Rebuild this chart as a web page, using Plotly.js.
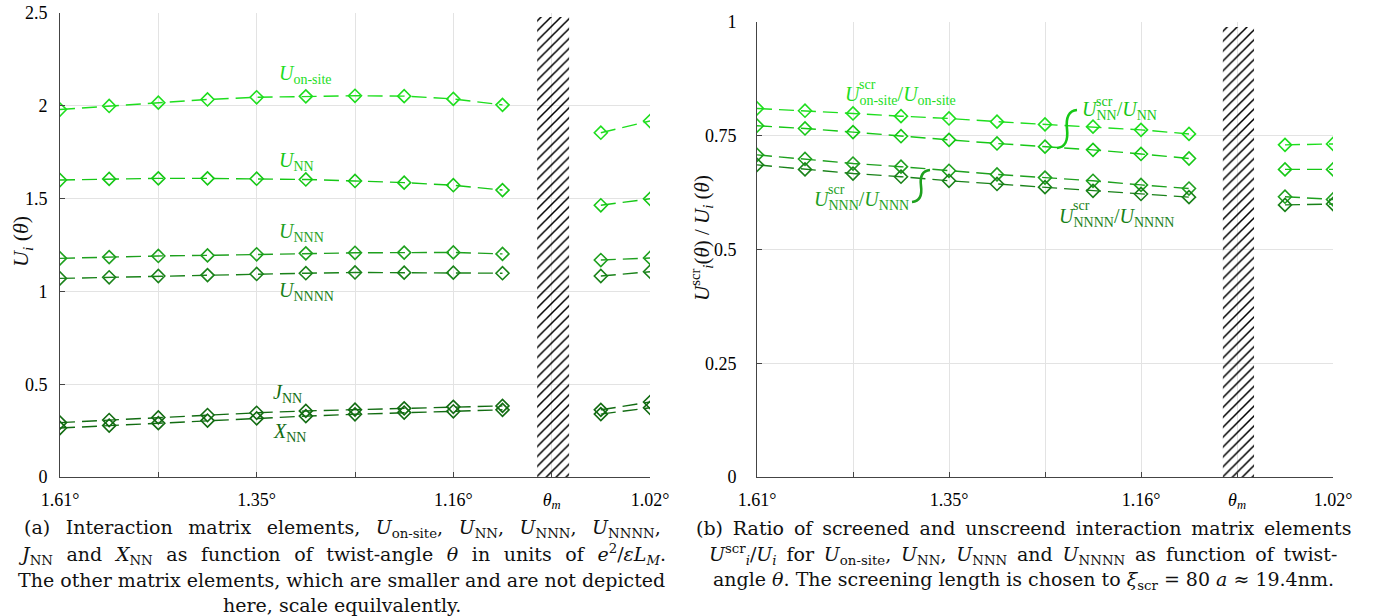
<!DOCTYPE html>
<html>
<head>
<meta charset="utf-8">
<script src="https://cdn.plot.ly/plotly-3.0.1.min.js"></script>
<style>html,body{margin:0;padding:0;background:#fff;}#chart{width:1391px;height:616px;}</style>
</head>
<body>
<div id="chart"></div>
<script>
// ---- data ----
const angleIndex = [0,1,2,3,4,5,6,7,8,9,10,11,12];
const tickPositions = [0,2,4,6,8,10,12];
const tickLabels = ["1.61°","","1.35°","","1.16°","<i>θ</i><sub><i>m</i></sub>","1.02°"];
const yTicksA = [0, 0.5, 1, 1.5, 2, 2.5];
const yLabelsA = ["0", "0.5", "1", "1.5", "2", "2.5"];
const yTicksB = [0, 0.25, 0.5, 0.75, 1];
const yLabelsB = ["0", "0.25", "0.5", "0.75", "1"];

// (a) interaction matrix elements (units e^2/εL_M)
const uOnsite = [1.980,1.999,2.017,2.034,2.046,2.051,2.054,2.052,2.037,2.005,null,1.855,1.918];
const uNN     = [1.600,1.606,1.609,1.609,1.607,1.603,1.595,1.586,1.572,1.546,null,1.464,1.499];
const uNNN    = [1.178,1.185,1.191,1.194,1.200,1.205,1.208,1.209,1.210,1.202,null,1.169,1.180];
const uNNNN   = [1.070,1.076,1.083,1.088,1.094,1.098,1.102,1.101,1.101,1.098,null,1.083,1.106];
const jNN     = [0.293,0.307,0.321,0.334,0.346,0.356,0.363,0.370,0.378,0.383,null,0.362,0.404];
const xNN     = [0.264,0.277,0.290,0.304,0.316,0.328,0.338,0.347,0.354,0.362,null,0.339,0.373];

// (b) screened / unscreened ratios
const rOnsite = [0.810,0.805,0.799,0.793,0.788,0.781,0.775,0.770,0.763,0.754,null,0.730,0.732];
const rNN     = [0.772,0.766,0.758,0.749,0.741,0.733,0.726,0.719,0.710,0.700,null,0.676,0.676];
const rNNN    = [0.708,0.699,0.689,0.682,0.673,0.665,0.658,0.651,0.642,0.634,null,0.616,0.610];
const rNNNN   = [0.686,0.676,0.667,0.660,0.651,0.644,0.637,0.629,0.622,0.615,null,0.598,0.600];

// excluded region around magic angle
const hatchCenter = [10.03];
const hatchWidth = [0.65];
const hatchTopA = [2.478];
const hatchTopB = [0.989];

// ---- styles ----
const W = 1391, H = 616;
const px = x => x / W;
const py = y => 1 - y / H;
const cOn = 'rgb(30,222,30)', cNN = 'rgb(22,200,22)', cNNN = 'rgb(30,160,30)', cNNNN = 'rgb(25,130,25)', cJX = 'rgb(18,108,18)';
const serif = 'Liberation Serif, Times New Roman, serif';
const capSerif = 'DejaVu Serif, Liberation Serif, serif';

function series(y, color, xa, ya) {
  return {
    x: angleIndex, y: y, xaxis: xa, yaxis: ya, type: 'scatter', mode: 'lines+markers',
    connectgaps: false, hoverinfo: 'skip', showlegend: false,
    line: {color: color, width: 1.4, dash: '15px,7px'},
    marker: {symbol: 'diamond-open', size: 10, color: color, line: {color: color, width: 1.6}}
  };
}
function hatch(top, xa, ya) {
  return {
    type: 'bar', x: hatchCenter, y: top, width: hatchWidth, base: 0, xaxis: xa, yaxis: ya,
    hoverinfo: 'skip', showlegend: false,
    marker: {color: 'rgba(0,0,0,0)', line: {width: 0},
      pattern: {shape: '/', fgcolor: '#000', bgcolor: 'rgba(255,255,255,0)', size: 7, solidity: 0.22}}
  };
}

const traces = [
  hatch(hatchTopA, 'x', 'y'),
  series(uOnsite, cOn, 'x', 'y'),
  series(uNN, cNN, 'x', 'y'),
  series(uNNN, cNNN, 'x', 'y'),
  series(uNNNN, cNNNN, 'x', 'y'),
  series(jNN, cJX, 'x', 'y'),
  series(xNN, cJX, 'x', 'y'),
  hatch(hatchTopB, 'x2', 'y2'),
  series(rOnsite, cOn, 'x2', 'y2'),
  series(rNN, cNN, 'x2', 'y2'),
  series(rNNN, cNNN, 'x2', 'y2'),
  series(rNNNN, cNNNN, 'x2', 'y2')
];

function axis(extra) {
  return Object.assign({
    showline: true, linecolor: '#444', linewidth: 1, mirror: false,
    showgrid: true, gridcolor: '#e3e3e3', gridwidth: 1, zeroline: false,
    ticks: 'inside', ticklen: 5, tickcolor: '#444', tickwidth: 1,
    tickfont: {family: serif, size: 18, color: '#000'}, fixedrange: true, tickmode: 'array'
  }, extra);
}

function lbl(x, y, text, color, size) {
  return {xref: 'paper', yref: 'paper', x: px(x), y: py(y), xanchor: 'left', yanchor: 'middle',
    text: text, showarrow: false, font: {family: serif, size: size || 20, color: color}};
}
// justify caption lines: widen the word gaps by a given extra space string
function cap(x, y, text, extra) {
  const t = extra ? text.replace(/ (?![^<]*>)/g, ' ' + extra) : text;
  return {xref: 'paper', yref: 'paper', x: px(x), y: py(y), xanchor: 'center', yanchor: 'middle',
    text: t, showarrow: false, font: {family: capSerif, size: 19, color: '#111'}};
}
const EN = '\u2002', THIN = '\u2009';

const annotations = [
  // y titles
  {xref: 'paper', yref: 'paper', x: px(22), y: py(242), textangle: -90, xanchor: 'center', yanchor: 'middle',
   text: '<i>U<sub>i</sub></i> (<i>θ</i>)', showarrow: false, font: {family: serif, size: 22, color: '#111'}},
  {xref: 'paper', yref: 'paper', x: px(701), y: py(238), textangle: -90, xanchor: 'center', yanchor: 'middle',
   text: '<i>U</i><sup>scr</sup><sub><i>i</i></sub>(<i>θ</i>) / <i>U<sub>i</sub></i> (<i>θ</i>)', showarrow: false,
   font: {family: serif, size: 21, color: '#111'}},
  // left labels
  lbl(277, 75, '<i>U</i><sub>on-site</sub>', cOn),
  lbl(277, 161, '<i>U</i><sub>NN</sub>', cNN),
  lbl(277, 232, '<i>U</i><sub>NNN</sub>', cNNN),
  lbl(277, 291, '<i>U</i><sub>NNNN</sub>', cNNNN),
  lbl(271, 393, '<i>J</i><sub>NN</sub>', cJX),
  lbl(271, 432, '<i>X</i><sub>NN</sub>', cJX),
  // right labels
  lbl(843, 95, '<i>U</i><sub>on-site</sub>/<i>U</i><sub>on-site</sub>', cOn),
  lbl(857, 84, 'scr', cOn, 14),
  lbl(1080, 110, '<i>U</i><sub>NN</sub>/<i>U</i><sub>NN</sub>', cNN),
  lbl(1094, 101, 'scr', cNN, 14),
  lbl(812, 200, '<i>U</i><sub>NNN</sub>/<i>U</i><sub>NNN</sub>', cNNN),
  lbl(826, 189, 'scr', cNNN, 14),
  lbl(1057, 217, '<i>U</i><sub>NNNN</sub>/<i>U</i><sub>NNNN</sub>', cNNNN),
  lbl(1071, 206, 'scr', cNNNN, 14),
  // captions
  cap(342, 528, '(a) Interaction matrix elements, <i>U</i><sub>on-site</sub>, <i>U</i><sub>NN</sub>, <i>U</i><sub>NNN</sub>, <i>U</i><sub>NNNN</sub>,', EN),
  cap(342, 554, '<i>J</i><sub>NN</sub> and <i>X</i><sub>NN</sub> as function of twist-angle <i>θ</i> in units of <i>e</i><sup>2</sup>/<i>εL</i><sub><i>M</i></sub>.', THIN + THIN),
  cap(341, 580, 'The other matrix elements, which are smaller and are not depicted'),
  cap(342, 605, 'here, scale equilvalently.'),
  cap(1023, 528, '(b) Ratio of screened and unscreend interaction matrix elements', THIN),
  cap(1023, 554, '<i>U</i><sup>scr</sup><sub><i>i</i></sub>/<i>U<sub>i</sub></i> for <i>U</i><sub>on-site</sub>, <i>U</i><sub>NN</sub>, <i>U</i><sub>NNN</sub> and <i>U</i><sub>NNNN</sub> as function of twist-', THIN),
  cap(1023, 580, 'angle <i>θ</i>. The screening length is chosen to <i>ξ</i><sub>scr</sub> = 80 <i>a</i> ≈ 19.4nm.')
];

function brace(x0, y0, x1, y1, color) {
  const xm = (x0 + x1) / 2, ym = (y0 + y1) / 2;
  const d = 'M' + px(x0) + ',' + py(y0) +
    ' Q' + px(xm + 2) + ',' + py(y0 - 1) + ' ' + px(xm) + ',' + py(ym) +
    ' Q' + px(xm - 2) + ',' + py(y1 + 1) + ' ' + px(x1) + ',' + py(y1);
  return {type: 'path', xref: 'paper', yref: 'paper', path: d, line: {color: color, width: 2.6}};
}

const shapes = [
  brace(1057, 148, 1077, 110, cNN),
  brace(912, 202, 930, 170, cNNN)
];

const layout = {
  width: W, height: H, margin: {l: 0, r: 0, t: 0, b: 0},
  font: {family: serif, size: 18, color: '#111'},
  paper_bgcolor: '#fff', plot_bgcolor: '#fff', showlegend: false, barmode: 'overlay',
  xaxis: axis({domain: [px(60), px(650)], anchor: 'y', range: [0, 12], tickvals: tickPositions, ticktext: tickLabels, ticklabelstandoff: 6}),
  yaxis: axis({domain: [py(477), py(13)], anchor: 'x', range: [0, 2.5], tickvals: yTicksA, ticktext: yLabelsA, ticklabelstandoff: 8}),
  xaxis2: axis({domain: [px(757), px(1333)], anchor: 'y2', range: [0, 12], tickvals: tickPositions, ticktext: tickLabels, ticklabelstandoff: 6}),
  yaxis2: axis({domain: [py(477), py(22)], anchor: 'x2', range: [0, 1], tickvals: yTicksB, ticktext: yLabelsB, ticklabelstandoff: 16}),
  annotations: annotations,
  shapes: shapes
};

Plotly.newPlot('chart', traces, layout, {displayModeBar: false, staticPlot: true});
</script>
</body>
</html>
